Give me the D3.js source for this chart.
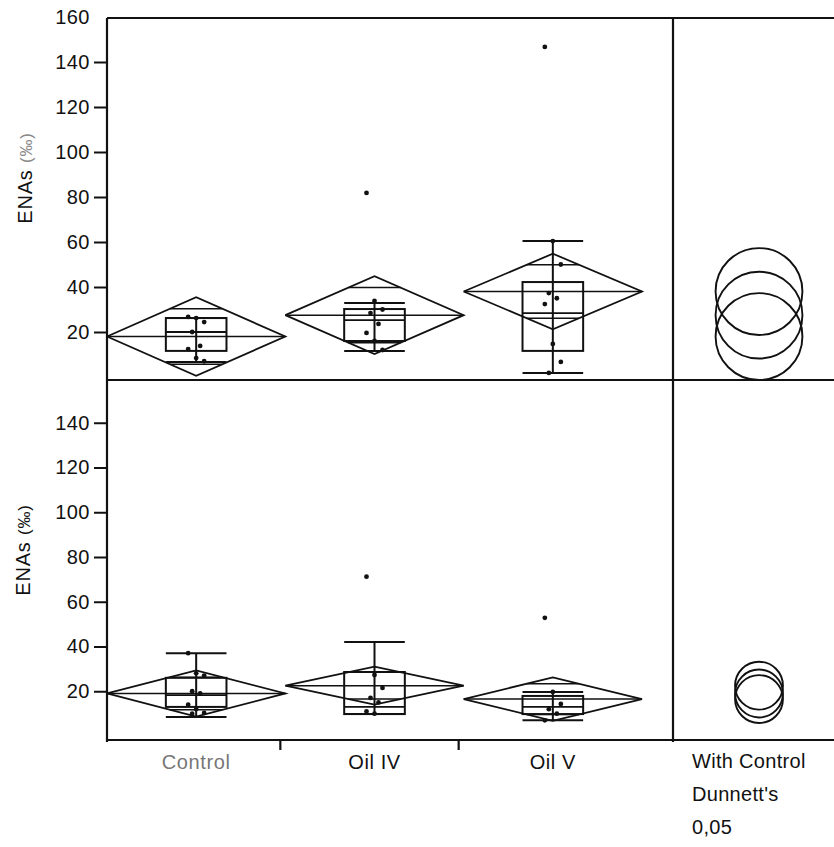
<!DOCTYPE html>
<html>
<head>
<meta charset="utf-8">
<script src="https://cdn.jsdelivr.net/npm/d3@7"></script>
<style>
  body { margin: 0; background: #fff; }
  text { font-family: "Liberation Sans", Arial, sans-serif; fill: #111; }
</style>
</head>
<body>
<div id="chart"></div>
<script>
const w = 834;
const h = 847;

const categories = ["Control", "Oil IV", "Oil V"];
const ticksA = [20, 40, 60, 80, 100, 120, 140, 160];
const ticksB = [20, 40, 60, 80, 100, 120, 140];
const sideLabels = ["With Control", "Dunnett's", "0,05"];

// upper panel
const meanA = [18, 27.5, 38];
const ciA = [17.5, 17.3, 16.8];
const q1A = [11.6, 16, 11.6];
const medA = [20, 25.3, 28.4];
const q3A = [26.2, 30.2, 42.2];
const loA = [6.7, 11.6, 1.8];
const hiA = [26.2, 32.9, 60.4];
const ptsA = [
  [26.7, 26.2, 24.4, 20, 13.8, 12.4, 8.4, 7],
  [81.8, 33.8, 30, 28.4, 23.6, 19.6, 16, 12],
  [146.7, 60.4, 50, 37.3, 35, 32.4, 14.7, 6.7, 1.8]
];
const circleA = [19.3, 19.3, 19.3];

// lower panel
const meanB = [19, 22.5, 16.5];
const ciB = [10.3, 8.5, 9.7];
const q1B = [13, 9.8, 9.8];
const medB = [18.3, 13, 13];
const q3B = [26, 28.6, 17.9];
const loB = [8.5, 9.8, 7];
const hiB = [37, 42, 19.7];
const ptsB = [
  [37, 28, 27, 20, 19, 14, 12, 10.3, 10],
  [71.2, 27.3, 21.5, 17, 15, 11, 10],
  [52.8, 19.7, 14.3, 12, 10, 7]
];
const circleB = [10.7, 10.7, 10.7];

const left = 107;
const right = 642;
const sideX = 673;
const midY = 380;

const x = d3.scaleBand().domain(categories).range([left, right]);
const yA = d3.scaleLinear().domain([0, 160]).range([377, 17]);
const yB = d3.scaleLinear().domain([0, 160]).range([736, 378]);
const bottomY = yB(0) + 4;

const svg = d3.select("#chart")
  .append("svg")
  .attr("width", w)
  .attr("height", h);

const jit = (i) => ((i * 7) % 5 - 2) * 4;

function drawPanel(y, ticks, mean, ci, q1, med, q3, lo, hi, pts, circ) {
  const g = svg.append("g");
  const bw = x.bandwidth();
  const boxW = bw * 0.34;

  categories.forEach((c, i) => {
    const x0 = x(c);
    const cx = x0 + bw / 2;
    const m = y(mean[i]);

    // box plot
    g.append("line")
      .attr("x1", cx).attr("x2", cx).attr("y1", y(lo[i])).attr("y2", y(hi[i]))
      .attr("stroke", "#111").attr("stroke-width", 2);
    g.append("rect")
      .attr("x", cx - boxW / 2).attr("width", boxW)
      .attr("y", y(q3[i])).attr("height", y(q1[i]) - y(q3[i]))
      .attr("fill", "none").attr("stroke", "#111").attr("stroke-width", 2);
    g.append("line")
      .attr("x1", cx - boxW / 2).attr("x2", cx + boxW / 2).attr("y1", y(med[i])).attr("y2", y(med[i]))
      .attr("stroke", "#111").attr("stroke-width", 1.8);
    [lo[i], hi[i]].forEach((v) => {
      g.append("line")
        .attr("x1", cx - boxW / 2).attr("x2", cx + boxW / 2).attr("y1", y(v)).attr("y2", y(v))
        .attr("stroke", "#111").attr("stroke-width", 2);
    });

    // means diamond
    g.append("path")
      .attr("d", d3.line()([
        [x0, m], [cx, y(mean[i] + ci[i])], [x0 + bw, m], [cx, y(mean[i] - ci[i])], [x0, m]
      ]))
      .attr("fill", "none").attr("stroke", "#111").attr("stroke-width", 1.8);
    g.append("line")
      .attr("x1", x0).attr("x2", x0 + bw).attr("y1", m).attr("y2", m)
      .attr("stroke", "#111").attr("stroke-width", 1.5);
    // overlap marks
    const off = ci[i] / Math.SQRT2;
    const hw = (1 - 1 / Math.SQRT2) * bw / 2;
    [mean[i] + off, mean[i] - off].forEach((v) => {
      g.append("line")
        .attr("x1", cx - hw).attr("x2", cx + hw).attr("y1", y(v)).attr("y2", y(v))
        .attr("stroke", "#111").attr("stroke-width", 1.5);
    });

    g.selectAll(null)
      .data(pts[i])
      .enter()
      .append("circle")
      .attr("cx", (d, j) => cx + jit(j))
      .attr("cy", (d) => y(d))
      .attr("r", 2.4)
      .attr("fill", "#111");
  });

  // Dunnett comparison circles
  g.selectAll(null)
    .data(mean)
    .enter()
    .append("circle")
    .attr("cx", 759)
    .attr("cy", (d) => y(d))
    .attr("r", (d, i) => y(0) - y(circ[i]))
    .attr("fill", "none")
    .attr("stroke", "#111")
    .attr("stroke-width", 1.9);

  const axis = g.append("g")
    .attr("transform", "translate(" + left + ",0)")
    .call(d3.axisLeft(y).tickValues(ticks).tickSize(13).tickPadding(4));
  axis.select(".domain").remove();
  axis.selectAll("line").attr("stroke", "#111").attr("stroke-width", 2);
  axis.selectAll(".tick").filter((d) => d === 160).select("line").remove();
  axis.selectAll("text")
    .style("font-size", "20px")
    .style("letter-spacing", "0.5px")
    .attr("fill", "#111");
}

drawPanel(yA, ticksA, meanA, ciA, q1A, medA, q3A, loA, hiA, ptsA, circleA);
drawPanel(yB, ticksB, meanB, ciB, q1B, medB, q3B, loB, hiB, ptsB, circleB);

// frame
const frame = svg.append("g").attr("stroke", "#111").attr("stroke-width", 2.2);
frame.append("line").attr("x1", left).attr("x2", w).attr("y1", yA(160) + 1).attr("y2", yA(160) + 1);
frame.append("line").attr("x1", left).attr("x2", w).attr("y1", midY).attr("y2", midY);
frame.append("line").attr("x1", left).attr("x2", w).attr("y1", bottomY).attr("y2", bottomY);
frame.append("line").attr("x1", left).attr("x2", left).attr("y1", yA(160) + 1).attr("y2", bottomY + 2);
frame.append("line").attr("x1", sideX).attr("x2", sideX).attr("y1", yA(160) + 1).attr("y2", bottomY + 2);

// category separators on x axis
frame.selectAll(null)
  .data(categories.slice(1))
  .enter()
  .append("line")
  .attr("x1", (d) => x(d) - 5).attr("x2", (d) => x(d) - 5)
  .attr("y1", bottomY).attr("y2", bottomY + 10);

svg.selectAll(".cat")
  .data(categories)
  .enter()
  .append("text")
  .attr("class", "cat")
  .attr("x", (d) => x(d) + x.bandwidth() / 2)
  .attr("y", 769)
  .attr("text-anchor", "middle")
  .style("font-size", "20px")
  .style("letter-spacing", "0.6px")
  .style("fill", (d, i) => i === 0 ? "#777" : "#111")
  .text((d) => d);

svg.selectAll(".side")
  .data(sideLabels)
  .enter()
  .append("text")
  .attr("class", "side")
  .attr("x", 692)
  .attr("y", (d, i) => 768 + i * 33)
  .style("font-size", "20px")
  .style("letter-spacing", "0.3px")
  .text((d) => d);

// y axis titles
[[24, 178, "#888"], [22, 550, "#111"]].forEach(([tx, ty, col]) => {
  const t = svg.append("text")
    .attr("transform", "translate(" + (tx + 8) + "," + ty + ") rotate(-90)")
    .attr("text-anchor", "middle")
    .style("font-size", "20px")
    .style("letter-spacing", "0.8px");
  t.append("tspan").text("ENAs ");
  t.append("tspan").style("fill", col).style("font-size", "17px").text("(‰)");
});
</script>
</body>
</html>
